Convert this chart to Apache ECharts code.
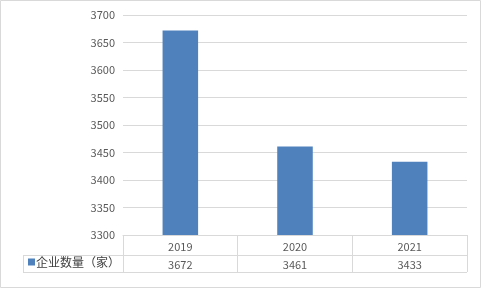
<!DOCTYPE html>
<html><head><meta charset="utf-8">
<script src="https://cdn.jsdelivr.net/npm/echarts@6/dist/echarts.min.js"></script>
<style>html,body{margin:0;padding:0;background:#fff}#c{width:482px;height:290px}</style>
</head><body><div id="c"></div>
<script>
const categories = ['2019', '2020', '2021'];
const seriesName = '企业数量（家）';
const values = [3672, 3461, 3433];
const yTicks = [3300, 3350, 3400, 3450, 3500, 3550, 3600, 3650, 3700];

const FONT = "'Microsoft YaHei','Noto Sans CJK SC',sans-serif";
const LINE = '#d9d9d9';
const TXT = '#595959';
const chart = echarts.init(document.getElementById('c'), null, {renderer: 'canvas'});
const L = 123, R = 467, T = 15, B = 235;
chart.setOption({
  animation: false,
  textStyle: {fontFamily: FONT},
  grid: {left: L, right: 482 - R, top: T, bottom: 290 - B},
  legend: {
    data: [{name: seriesName, icon: 'rect'}],
    left: 28, top: 256, itemWidth: 7, itemHeight: 7, itemGap: 2,
    padding: 0,
    textStyle: {fontFamily: FONT, fontSize: 12, color: '#404040', padding: [1, 0, 0, -4]},
    selectedMode: false
  },
  xAxis: [{
    type: 'category', data: categories, position: 'bottom',
    axisLine: {lineStyle: {color: LINE}},
    axisTick: {show: true, length: 37, lineStyle: {color: LINE}},
    axisLabel: {color: TXT, fontSize: 11, margin: 6, fontFamily: FONT}
  }, {
    type: 'category', data: values.map(String), position: 'bottom', offset: 19,
    axisLine: {show: false}, axisTick: {show: false},
    axisLabel: {color: TXT, fontSize: 11, margin: 5, fontFamily: FONT}
  }],
  yAxis: {
    type: 'value', min: yTicks[0], max: yTicks[yTicks.length - 1], interval: 50,
    axisLine: {show: false}, axisTick: {show: false},
    axisLabel: {color: TXT, fontSize: 11, margin: 8, fontFamily: FONT, formatter: v => String(v)},
    splitLine: {lineStyle: {color: LINE}}
  },
  series: [{
    name: seriesName, type: 'bar', data: values, barWidth: '31%',
    itemStyle: {color: '#4F81BD'}
  }],
  graphic: [
    {type: 'rect', shape: {x: 0.5, y: 0.5, width: 480, height: 287}, style: {fill: 'none', stroke: LINE}, silent: true},
    {type: 'line', shape: {x1: 23, y1: 255.5, x2: R, y2: 255.5}, style: {stroke: LINE}, silent: true},
    {type: 'line', shape: {x1: 23, y1: 272.5, x2: R, y2: 272.5}, style: {stroke: LINE}, silent: true},
    {type: 'line', shape: {x1: 23.5, y1: 255, x2: 23.5, y2: 273}, style: {stroke: LINE}, silent: true}
  ]
});
</script></body></html>
